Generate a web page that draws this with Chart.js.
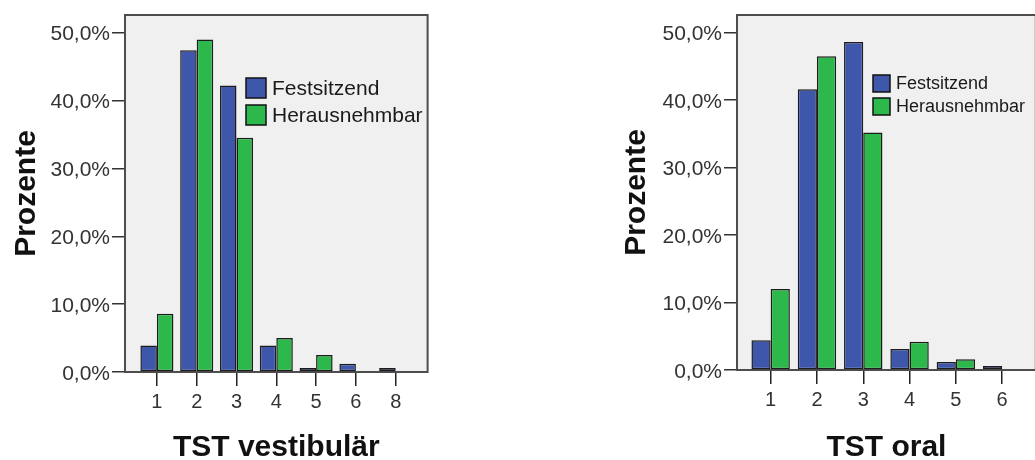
<!DOCTYPE html>
<html>
<head>
<meta charset="utf-8">
<script src="https://cdn.jsdelivr.net/npm/chart.js@4.4.1/dist/chart.umd.min.js"></script>
<style>
  html, body { margin: 0; padding: 0; background: #fff; overflow: hidden; }
  body { width: 1035px; height: 460px; position: relative; }
  .box { position: absolute; top: 0; width: 440px; height: 460px; }
  #left { left: 0; }
  #right { left: 610px; }
</style>
</head>
<body>
<div class="box" id="left"><canvas id="vestChart"></canvas></div>
<div class="box" id="right"><canvas id="oralChart"></canvas></div>
<script>
const seriesNames = ['Festsitzend', 'Herausnehmbar'];
const yTickValues = [0, 10, 20, 30, 40, 50];

// TST vestibulär
const vestCategories = ['1', '2', '3', '4', '5', '6', '8'];
const vestFest = [3.9, 47.4, 42.2, 3.9, 0.6, 1.2, 0.6];
const vestHeraus = [8.6, 49.0, 34.5, 5.0, 2.5, null, null];

// TST oral
const oralCategories = ['1', '2', '3', '4', '5', '6'];
const oralFest = [4.4, 41.6, 48.6, 3.1, 1.2, 0.6];
const oralHeraus = [12.0, 46.5, 35.2, 4.2, 1.6, null];

const BLUE = '#3e57ab';
const GREEN = '#2db84b';
const FONT = '"Liberation Sans", Arial, sans-serif';
Chart.defaults.font.family = FONT;

// grey plot frame, a bit wider than the category area (SPSS style)
const framePlugin = {
    id: 'frame',
    beforeDatasetsDraw(chart, args, opts) {
        const { ctx, chartArea: a } = chart;
        const x0 = a.left - opts.inset;
        const x1 = a.right + opts.inset;
        ctx.save();
        ctx.fillStyle = '#f0f0f0';
        ctx.fillRect(x0, a.top, x1 - x0, a.bottom - a.top);
        ctx.strokeStyle = '#4d4d4d';
        ctx.lineWidth = 2;
        ctx.strokeRect(x0, a.top, x1 - x0, a.bottom - a.top);
        ctx.restore();
    }
};

const legendPlugin = {
    id: 'boxLegend',
    afterDatasetsDraw(chart, args, opts) {
        const ctx = chart.ctx;
        ctx.save();
        ctx.font = opts.fontSize + 'px ' + FONT;
        ctx.textBaseline = 'middle';
        chart.data.datasets.forEach((ds, i) => {
            const y = opts.y + i * opts.step;
            ctx.fillStyle = ds.backgroundColor;
            ctx.fillRect(opts.x, y, opts.box, opts.box);
            ctx.strokeStyle = '#111';
            ctx.lineWidth = 1.5;
            ctx.strokeRect(opts.x, y, opts.box, opts.box);
            ctx.fillStyle = '#1a1a1a';
            ctx.fillText(ds.label, opts.x + opts.box + opts.gap, y + opts.box / 2 + 1);
        });
        ctx.restore();
    }
};

function makeChart(id, cfg) {
    const ctx = document.getElementById(id).getContext('2d');
    return new Chart(ctx, {
        type: 'bar',
        data: {
            labels: cfg.categories,
            datasets: [
                { label: seriesNames[0], data: cfg.fest, backgroundColor: BLUE },
                { label: seriesNames[1], data: cfg.heraus, backgroundColor: GREEN }
            ].map(d => Object.assign(d, {
                borderColor: '#1c1c1c',
                borderWidth: 1.5,
                borderSkipped: false,
                categoryPercentage: 0.83,
                barPercentage: 1
            }))
        },
        options: {
            responsive: true,
            maintainAspectRatio: false,
            animation: false,
            layout: { padding: { left: 0, right: cfg.padRight, top: 15, bottom: 0 } },
            plugins: {
                legend: { display: false },
                tooltip: { enabled: false },
                frame: { inset: cfg.inset },
                boxLegend: cfg.legend
            },
            scales: {
                x: {
                    offset: true,
                    grid: { display: true, drawOnChartArea: false, drawTicks: true, tickLength: 14, offset: false, color: '#222', lineWidth: 1.5 },
                    border: { display: false },
                    ticks: { color: '#333', font: { size: 20 }, padding: 4, maxRotation: 0, autoSkip: false },
                    title: {
                        display: true, text: cfg.xTitle, color: '#111',
                        font: { size: 30, weight: 'bold', lineHeight: 0.8 },
                        padding: { top: 0, bottom: 0 }
                    },
                    afterFit: s => { s.height = 460 - cfg.bottom; }
                },
                y: {
                    min: 0,
                    max: 52.6,
                    grid: { drawOnChartArea: false, drawTicks: true, tickLength: cfg.inset + 13, color: '#333', lineWidth: 1.5 },
                    border: { display: false },
                    afterBuildTicks: s => { s.ticks = yTickValues.map(v => ({ value: v })); },
                    ticks: {
                        callback: v => v.toFixed(1).replace('.', ',') + '%',
                        color: '#333', font: { size: 21 }, padding: 2, labelOffset: 2
                    },
                    title: {
                        display: true, text: 'Prozente', color: '#111',
                        font: { size: 30, weight: 'bold', lineHeight: 1.2 },
                        padding: { top: 9, bottom: 0 }
                    },
                    afterFit: s => { s.width = cfg.axisWidth; }
                }
            }
        },
        plugins: [framePlugin, legendPlugin]
    });
}

makeChart('vestChart', {
    categories: vestCategories, fest: vestFest, heraus: vestHeraus,
    xTitle: 'TST vestibulär', axisWidth: 137, padRight: 24.4, inset: 12, bottom: 372,
    legend: { x: 246, y: 78, box: 20, step: 27, gap: 6, fontSize: 21 }
});

makeChart('oralChart', {
    categories: oralCategories, fest: oralFest, heraus: oralHeraus,
    xTitle: 'TST oral', axisWidth: 137.5, padRight: 24.7, inset: 10.5, bottom: 370,
    legend: { x: 263, y: 75, box: 17, step: 23, gap: 6, fontSize: 18 }
});
</script>
</body>
</html>
